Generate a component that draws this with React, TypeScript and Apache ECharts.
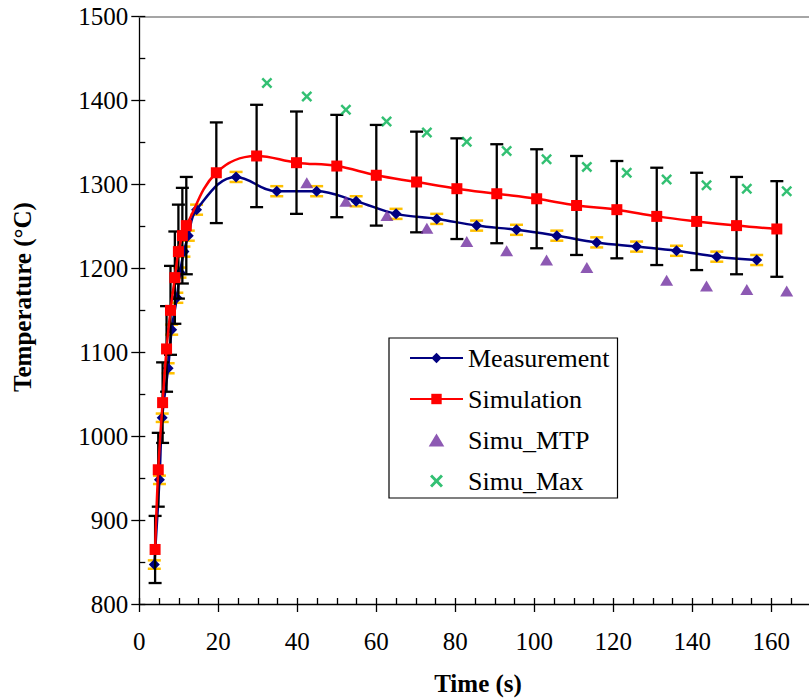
import React, { useEffect, useRef } from "react";
import * as echarts from "echarts";

// Simulation (red squares + black error bars)
const simTime = [4.0, 4.8, 5.9, 6.9, 7.9, 9.0, 9.9, 10.9, 11.9, 19.5, 29.7, 39.8, 50.0, 60.0, 70.2, 80.4, 90.5, 100.6, 110.7, 120.9, 131.0, 141.1, 151.2, 161.4];
const simTemp = [865, 960, 1040, 1104, 1150, 1189, 1220, 1239, 1251, 1314, 1334, 1326, 1322, 1311, 1303, 1295, 1289, 1283, 1275, 1270, 1262, 1256, 1251, 1247];
const simErr = [40, 44, 48, 51, 53, 55, 56, 57, 58, 60, 61, 61, 61, 60, 60, 60, 59, 59, 59, 58, 58, 58, 58, 57];

// Measurement (navy diamonds + orange error bars)
const measTime = [3.8, 5.1, 5.8, 7.3, 8.2, 9.5, 10.3, 11.3, 12.4, 14.5, 24.5, 34.8, 44.9, 54.9, 65.0, 75.3, 85.4, 95.5, 105.7, 115.8, 125.9, 136.0, 146.2, 156.3];
const measTemp = [847, 948, 1022, 1081, 1127, 1165, 1195, 1220, 1239, 1270, 1309, 1292, 1292, 1280, 1265, 1259, 1251, 1246, 1239, 1231, 1226, 1221, 1214, 1210];
const measErr = [5, 5, 5, 6, 6, 6, 6, 6, 6, 6, 6, 6, 6, 6, 6, 6, 6, 6, 6, 6, 6, 6, 6, 6];

// Simu_MTP (purple triangles)
const mtpTime = [42.4, 52.3, 62.7, 72.8, 82.9, 93.0, 103.1, 113.3, 133.5, 143.6, 153.8, 163.9];
const mtpTemp = [1302, 1280, 1263, 1248, 1232, 1221, 1210, 1201, 1186, 1179, 1175, 1173];

// Simu_Max (green crosses)
const maxTime = [32.3, 42.4, 52.3, 62.6, 72.8, 82.9, 93.0, 103.1, 113.3, 123.4, 133.5, 143.6, 153.8, 163.9];
const maxTemp = [1421, 1405, 1389, 1375, 1362, 1351, 1340, 1330, 1321, 1314, 1306, 1299, 1295, 1292];

// Tick labels
const xTicks = [0, 20, 40, 60, 80, 100, 120, 140, 160];
const yTicks = [800, 900, 1000, 1100, 1200, 1300, 1400, 1500];

const FONT = "'Liberation Serif', 'Times New Roman', serif";
const X_SYMBOL = "path://M0,1.6L1.6,0L5,3.4L8.4,0L10,1.6L6.6,5L10,8.4L8.4,10L5,6.6L1.6,10L0,8.4L3.4,5Z";
const TRI_SYMBOL = "path://M6,0L12,10L0,10Z";

function errRender(color: string, lw: number, hw: number) {
  return (params: any, api: any) => {
    const x = api.value(0);
    const y = api.value(1);
    const e = api.value(2);
    const p1 = api.coord([x, y + e]);
    const p2 = api.coord([x, y - e]);
    const style = { stroke: color, lineWidth: lw };
    return {
      type: "group",
      children: [
        { type: "line", shape: { x1: p1[0], y1: p1[1], x2: p2[0], y2: p2[1] }, style },
        { type: "line", shape: { x1: p1[0] - hw, y1: p1[1], x2: p1[0] + hw, y2: p1[1] }, style },
        { type: "line", shape: { x1: p2[0] - hw, y1: p2[1], x2: p2[0] + hw, y2: p2[1] }, style },
      ],
    };
  };
}

export default function App() {
  const ref = useRef<HTMLDivElement>(null);
  useEffect(() => {
    if (!ref.current) return;
    const chart = echarts.init(ref.current, undefined, { renderer: "svg" });
    const simPts = simTime.map((t, i) => [t, simTemp[i]]);
    const measPts = measTime.map((t, i) => [t, measTemp[i]]);
    const simErrPts = simTime.map((t, i) => [t, simTemp[i], simErr[i]]);
    const measErrPts = measTime.map((t, i) => [t, measTemp[i], measErr[i]]);
    const mtpPts = mtpTime.map((t, i) => [t, mtpTemp[i]]);
    const maxPts = maxTime.map((t, i) => [t, maxTemp[i]]);

    chart.setOption({
      animation: false,
      backgroundColor: "#ffffff",
      textStyle: { fontFamily: FONT },
      grid: { left: 139.3, top: 16.7, width: 671.5, height: 587.3, containLabel: false, outerBoundsMode: "none" },
      xAxis: [
        {
          type: "value",
          min: 0,
          max: 170,
          interval: 20,
          axisLine: { show: true, lineStyle: { color: "#000", width: 1.3 } },
          axisTick: { show: true, inside: false, length: 8, lineStyle: { color: "#000", width: 1.3 }, customValues: xTicks },
          axisLabel: {
            show: true,
            margin: 25,
            color: "#000",
            fontSize: 25,
            fontFamily: FONT,
            customValues: xTicks,
            formatter: (v: number) => String(v),
          },
          splitLine: { show: false },
        },
        {
          type: "value",
          min: 0,
          max: 170,
          interval: 5,
          position: "bottom",
          axisLine: { show: false },
          axisTick: { show: true, inside: true, length: 6, lineStyle: { color: "#000", width: 1.3 } },
          axisLabel: { show: false },
          splitLine: { show: false },
        },
        {
          type: "value",
          min: 0,
          max: 170,
          position: "top",
          axisLine: { show: true, lineStyle: { color: "#888", width: 1.5 } },
          axisTick: { show: false },
          axisLabel: { show: false },
          splitLine: { show: false },
        },
      ],
      yAxis: [
        {
          type: "value",
          min: 800,
          max: 1500,
          interval: 100,
          axisLine: { show: true, lineStyle: { color: "#000", width: 1.3 } },
          axisTick: { show: true, inside: false, length: 8, lineStyle: { color: "#000", width: 1.3 }, customValues: yTicks },
          axisLabel: {
            show: true,
            margin: 11,
            color: "#000",
            fontSize: 25,
            fontFamily: FONT,
            customValues: yTicks,
            formatter: (v: number) => String(v),
          },
          splitLine: { show: false },
        },
        {
          type: "value",
          min: 800,
          max: 1500,
          interval: 50,
          position: "left",
          axisLine: { show: false },
          axisTick: { show: true, inside: true, length: 6, lineStyle: { color: "#000", width: 1.3 } },
          axisLabel: { show: false },
          splitLine: { show: false },
        },
      ],
      legend: {
        orient: "vertical",
        left: 389,
        top: 338,
        padding: [7, 8, 4, 20],
        itemGap: 15,
        itemWidth: 53,
        itemHeight: 13,
        symbolKeepAspect: true,
        borderColor: "#000",
        borderWidth: 1.2,
        backgroundColor: "#fff",
        textStyle: { fontSize: 26, fontFamily: FONT, color: "#000" },
        data: ["Measurement", "Simulation", "Simu_MTP", "Simu_Max"],
      },
      graphic: [
        {
          type: "text",
          x: 22,
          y: 297,
          rotation: Math.PI / 2,
          style: {
            text: "Temperature (°C)",
            font: `bold 25px ${FONT}`,
            fill: "#000",
            align: "center",
            verticalAlign: "middle",
          },
        },
        {
          type: "text",
          x: 478,
          y: 683,
          style: {
            text: "Time (s)",
            font: `bold 25px ${FONT}`,
            fill: "#000",
            align: "center",
            verticalAlign: "middle",
          },
        },
      ],
      series: [
        {
          name: "measErr",
          type: "custom",
          data: measErrPts,
          encode: { x: 0, y: 1 },
          renderItem: errRender("#FFC000", 2.5, 6.5),
          z: 1,
          silent: true,
        },
        {
          name: "Measurement",
          type: "line",
          data: measPts,
          smooth: 0.4,
          symbol: "diamond",
          symbolSize: 11,
          lineStyle: { color: "#000080", width: 2.5 },
          itemStyle: { color: "#000080" },
          z: 2,
        },
        {
          name: "simErr",
          type: "custom",
          data: simErrPts,
          encode: { x: 0, y: 1 },
          renderItem: errRender("#000000", 2.3, 6.5),
          z: 3,
          silent: true,
        },
        {
          name: "Simulation",
          type: "line",
          data: simPts,
          smooth: 0.4,
          symbol: "rect",
          symbolSize: 11,
          lineStyle: { color: "#FF0000", width: 2.5 },
          itemStyle: { color: "#FF0000" },
          z: 4,
        },
        {
          name: "Simu_MTP",
          type: "scatter",
          data: mtpPts,
          symbol: TRI_SYMBOL,
          symbolSize: [13, 11],
          itemStyle: { color: "#7030A0" },
          z: 5,
        },
        {
          name: "Simu_Max",
          type: "scatter",
          data: maxPts,
          symbol: X_SYMBOL,
          symbolSize: 11,
          itemStyle: { color: "#00B050" },
          z: 6,
        },
      ],
    });
    return () => chart.dispose();
  }, []);
  return <div ref={ref} style={{ position: "fixed", left: 0, top: 0, width: 809, height: 699 }} />;
}
